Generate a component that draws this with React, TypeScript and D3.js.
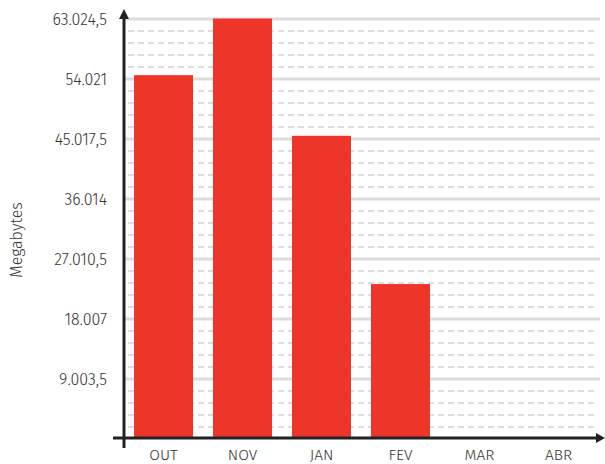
import React from "react";
import * as d3 from "d3";

const categories = ["OUT", "NOV", "JAN", "FEV", "MAR", "ABR"];
const values = [54600, 63100, 45500, 23250, 0, 0];
const tickValues = [9003.5, 18007, 27010.5, 36014, 45017.5, 54021, 63024.5];
const tickLabels = ["9.003,5", "18.007", "27.010,5", "36.014", "45.017,5", "54.021", "63.024,5"];
const yMax = 63024.5;

const W = 605;
const H = 464;
const left = 124;
const right = 598;
const top = 19;
const bottom = 439;
const font = "'Fira Sans', 'Open Sans', 'Noto Sans', sans-serif";

export default function App() {
  const x = d3.scaleBand<string>().domain(categories).range([left, right]).paddingInner(0.253).paddingOuter(0.127);
  const y = d3.scaleLinear().domain([0, yMax]).range([bottom, top]);
  const step = tickValues[0] / 5;
  const minor: number[] = d3.range(1, 35).filter((i) => i % 5 !== 0).map((i) => i * step);

  return (
    <svg width={W} height={H} style={{ position: "absolute", left: 0, top: 0 }}>
      <rect width={W} height={H} fill="#fff" />
      {minor.map((v, i) => (
        <line key={"m" + i} x1={left + 4} x2={597} y1={y(v)} y2={y(v)} stroke="#dddddd" strokeWidth={2} strokeDasharray="6,4" />
      ))}
      {tickValues.map((v, i) => (
        <line key={"g" + i} x1={left} x2={600} y1={y(v)} y2={y(v)} stroke="#dcdcdc" strokeWidth={3} />
      ))}
      {categories.map((c, i) =>
        values[i] > 0 ? (
          <rect key={c} x={x(c)} y={y(values[i])} width={x.bandwidth()} height={y(0) - y(values[i]) - 1} fill="#ee352a" />
        ) : null
      )}
      {/* axes */}
      <line x1={124} x2={124} y1={16} y2={448} stroke="#222" strokeWidth={3} />
      <path d="M124,9 L119,19 L129,19 Z" fill="#222" />
      <line x1={113} x2={598} y1={438} y2={438} stroke="#222" strokeWidth={3} />
      <path d="M605,438 L596,433 L596,443 Z" fill="#222" />
      {tickValues.map((v, i) => (
        <text key={"t" + i} x={107} y={y(v)} dy="0.35em" textAnchor="end" fontFamily={font} fontWeight={300} fontSize={16} fill="#333">
          {tickLabels[i]}
        </text>
      ))}
      {categories.map((c) => (
        <text key={"x" + c} x={(x(c) as number) + x.bandwidth() / 2} y={454.5} dy="0.35em" textAnchor="middle" fontFamily={font} fontWeight={300} fontSize={15.5} fill="#333">
          {c}
        </text>
      ))}
      <text transform="translate(16,240) rotate(-90)" dy="0.35em" textAnchor="middle" fontFamily={font} fontWeight={300} fontSize={16} fill="#333">
        Megabytes
      </text>
    </svg>
  );
}
